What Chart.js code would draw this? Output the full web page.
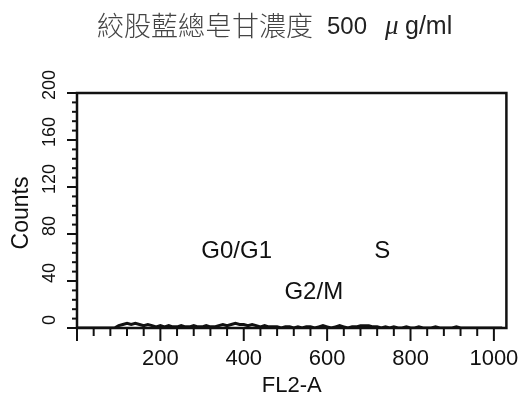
<!DOCTYPE html>
<html lang="zh-Hant">
<head>
    <meta charset="UTF-8">
    <title>FL2-A histogram</title>
    <script src="https://cdn.jsdelivr.net/npm/chart.js"></script>
    <style>
        html, body { margin: 0; padding: 0; background: #fff; }
        #wrap { width: 529px; height: 400px; }
    </style>
</head>
<body>
    <div id="wrap"><canvas id="histChart"></canvas></div>

    <script>
        // data
        const channels = [
            0, 10, 20, 30, 40, 50, 60, 70, 80, 90,
            100, 110, 120, 130, 140, 150, 160, 170, 180, 190,
            200, 210, 220, 230, 240, 250, 260, 270, 280, 290,
            300, 310, 320, 330, 340, 350, 360, 370, 380, 390,
            400, 410, 420, 430, 440, 450, 460, 470, 480, 490,
            500, 510, 520, 530, 540, 550, 560, 570, 580, 590,
            600, 610, 620, 630, 640, 650, 660, 670, 680, 690,
            700, 710, 720, 730, 740, 750, 760, 770, 780, 790,
            800, 810, 820, 830, 840, 850, 860, 870, 880, 890,
            900, 910, 920, 930, 940, 950, 960, 970, 980, 990,
            1000, 1010, 1020
        ];
        const counts = [
            0, 0, 0, 0, 0, 0, 0, 0, 0, 0,
            2, 3, 4, 3, 4, 3, 2, 3, 2, 1,
            2, 1, 2, 1, 1, 2, 1, 1, 2, 1,
            1, 2, 1, 1, 2, 3, 2, 3, 4, 3,
            3, 2, 3, 2, 1, 2, 1, 1, 1, 0,
            1, 1, 0, 1, 0, 1, 1, 0, 1, 2,
            1, 0, 1, 2, 1, 0, 1, 1, 2, 2,
            2, 1, 1, 0, 1, 0, 1, 0, 0, 1,
            0, 0, 1, 0, 0, 0, 1, 0, 0, 0,
            0, 1, 0, 0, 0, 0, 0, 0, 0, 0,
            0, 0, 0
        ];
        const xTickLabels = [200, 400, 600, 800, 1000];
        const yTickLabels = [0, 40, 80, 120, 160, 200];
        const phaseLabels = ['G0/G1', 'S', 'G2/M'];
        const phaseX = [383, 732, 568];
        const phaseY = [65, 65, 30];

        const latin = '"Liberation Sans", Arial, sans-serif';

        // frame, tick marks, y labels, titles and phase labels
        const decor = {
            id: 'decor',
            afterDatasetsDraw(chart) {
                const ctx = chart.ctx;
                const a = chart.chartArea;
                const xs = chart.scales.x;
                const ys = chart.scales.y;
                ctx.save();
                ctx.strokeStyle = '#111';
                ctx.lineWidth = 2.5;
                ctx.strokeRect(a.left, a.top, a.right - a.left, a.bottom - a.top);

                // x ticks: major every 200, minor every 40
                ctx.lineWidth = 2;
                for (let v = 0; v <= 1000; v += 40) {
                    const px = xs.getPixelForValue(v);
                    const len = v % 200 === 0 ? 13 : 8;
                    ctx.beginPath();
                    ctx.moveTo(px, a.bottom);
                    ctx.lineTo(px, a.bottom + len);
                    ctx.stroke();
                }
                ctx.beginPath();
                ctx.moveTo(a.left - 6, a.bottom);
                ctx.lineTo(a.left, a.bottom);
                ctx.stroke();

                // y ticks: major every 40, minor every 8
                for (let v = 0; v <= 200; v += 8) {
                    const py = ys.getPixelForValue(v);
                    const len = v % 40 === 0 ? 10 : 5;
                    ctx.beginPath();
                    ctx.moveTo(a.left, py);
                    ctx.lineTo(a.left - len, py);
                    ctx.stroke();
                }

                // rotated y labels
                ctx.fillStyle = '#111';
                ctx.font = '18px ' + latin;
                ctx.textAlign = 'center';
                ctx.textBaseline = 'middle';
                yTickLabels.forEach(v => {
                    const py = ys.getPixelForValue(v) - 8;
                    ctx.save();
                    ctx.translate(50, py);
                    ctx.rotate(-Math.PI / 2);
                    ctx.fillText(String(v), 0, 0);
                    ctx.restore();
                });

                ctx.save();
                ctx.font = '23px ' + latin;
                ctx.translate(22, 213);
                ctx.rotate(-Math.PI / 2);
                ctx.fillText('Counts', 0, 0);
                ctx.restore();

                // phase labels
                ctx.font = '24px ' + latin;
                phaseLabels.forEach((t, i) => {
                    ctx.fillText(t, xs.getPixelForValue(phaseX[i]), ys.getPixelForValue(phaseY[i]));
                });

                // title
                ctx.textAlign = 'left';
                ctx.fillStyle = '#444';
                ctx.font = '300 27px "Noto Sans CJK TC"';
                ctx.fillText('絞股藍總皂甘濃度', 97, 26);
                ctx.fillStyle = '#222';
                ctx.font = '24px ' + latin;
                ctx.fillText('500', 327, 27);
                ctx.font = 'italic 27px "Liberation Serif", serif';
                ctx.fillText('\u03bc', 385, 27);
                ctx.font = '25px ' + latin;
                ctx.fillText('g/ml', 405, 27);
                ctx.restore();
            }
        };

        const ctxHist = document.getElementById('histChart').getContext('2d');
        const histChart = new Chart(ctxHist, {
            type: 'line',
            data: {
                datasets: [{
                    data: channels.map((c, i) => ({ x: c, y: counts[i] })),
                    borderColor: '#111',
                    borderWidth: 3,
                    pointRadius: 0,
                    fill: false,
                    tension: 0
                }]
            },
            options: {
                responsive: true,
                maintainAspectRatio: false,
                animation: false,
                layout: { padding: { top: 93, right: 22, left: 0, bottom: 0 } },
                plugins: {
                    legend: { display: false },
                    tooltip: { enabled: false }
                },
                scales: {
                    x: {
                        type: 'linear',
                        min: 0,
                        max: 1030,
                        grid: { display: false },
                        border: { display: false },
                        afterBuildTicks: s => { s.ticks = xTickLabels.map(v => ({ value: v })); },
                        ticks: {
                            autoSkip: false,
                            maxRotation: 0,
                            padding: 10,
                            color: '#111',
                            font: { family: latin, size: 22 },
                            callback: v => String(v)
                        },
                        title: {
                            display: true,
                            text: 'FL2-A',
                            color: '#111',
                            font: { family: latin, size: 22 },
                            padding: { top: 0, bottom: 1 }
                        },
                        afterFit: s => { s.height = 72; }
                    },
                    y: {
                        min: 0,
                        max: 200,
                        grid: { display: false },
                        border: { display: false },
                        ticks: { display: false },
                        afterFit: s => { s.width = 77; }
                    }
                }
            },
            plugins: [decor]
        });
    </script>
</body>
</html>
